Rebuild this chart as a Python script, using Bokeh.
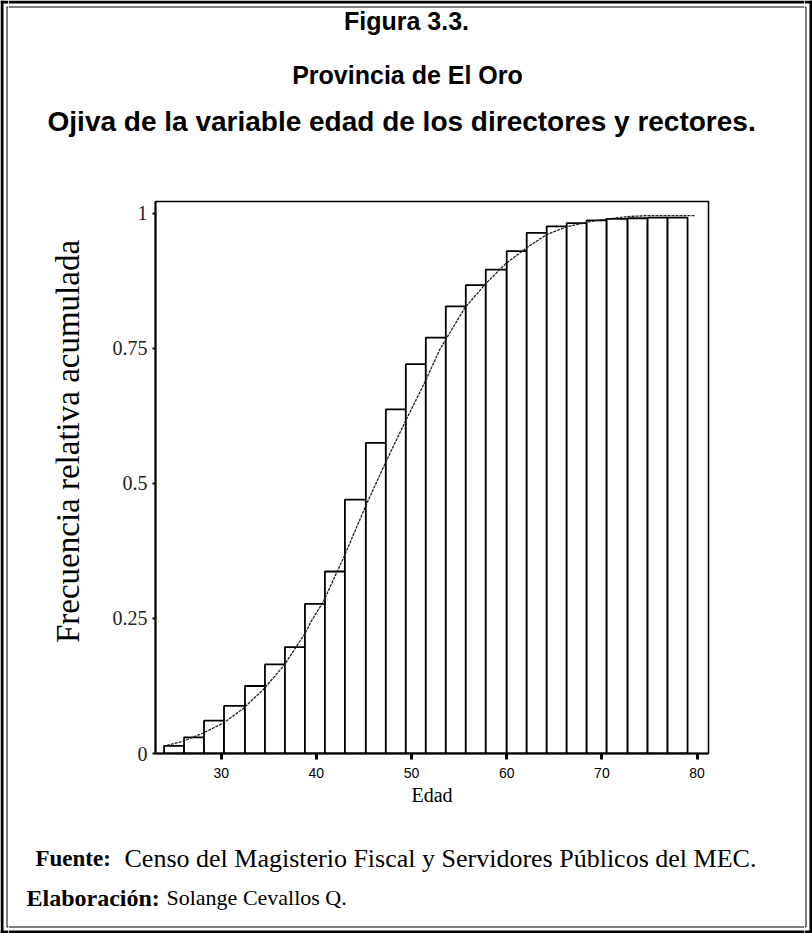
from math import pi
from bokeh.plotting import figure
from bokeh.models import Range1d, FixedTicker
from bokeh.layouts import column, row
from bokeh.core.properties import value
from bokeh.embed import file_html
from bokeh.resources import INLINE

# ---- data ----
bin_edges = [24.0, 26.1, 28.2, 30.3, 32.5, 34.6, 36.7, 38.8, 40.9, 43.0, 45.2, 47.3, 49.4,
             51.5, 53.6, 55.7, 57.8, 60.0, 62.1, 64.2, 66.3, 68.4, 70.5, 72.7, 74.8, 76.9, 79.0]
cum_freq = [0.014, 0.030, 0.061, 0.088, 0.125, 0.165, 0.197, 0.277, 0.337, 0.470, 0.575, 0.637,
            0.721, 0.770, 0.828, 0.867, 0.896, 0.930, 0.964, 0.976, 0.982, 0.987, 0.990, 0.991,
            0.992, 0.992]
curve_age = [23.9, 26.0, 28.0, 30.2, 32.3, 34.4, 36.6, 38.8, 39.5, 40.7, 42.9, 45.2, 47.2,
             49.3, 51.5, 53.0, 55.6, 57.8, 59.9, 62.0, 64.2, 66.3, 68.5, 70.7, 72.7, 74.8, 79.8]
curve_freq = [0.013, 0.023, 0.037, 0.056, 0.083, 0.118, 0.163, 0.222, 0.246, 0.280, 0.364, 0.459,
              0.536, 0.613, 0.691, 0.749, 0.825, 0.870, 0.907, 0.935, 0.961, 0.975, 0.984, 0.990,
              0.994, 0.996, 0.996]
x_ticks = [30, 40, 50, 60, 70, 80]
y_ticks = [0, 0.25, 0.5, 0.75, 1]
y_tick_labels = ["0", "0.25", "0.5", "0.75", "1"]

title_lines = ["Figura 3.3.", "Provincia de El Oro",
               "Ojiva  de la variable edad de los directores y rectores."]
x_label = "Edad"
y_label = "Frecuencia relativa acumulada"
source_head, source_text = "Fuente:", "Censo del Magisterio Fiscal y Servidores Públicos del MEC."
author_head, author_text = "Elaboración:", "Solange Cevallos Q."

# ---- page geometry (page pixels) ----
W, H = 812, 933
EDGE = 8                 # width of the left / right border strips
TOP_H = 185              # header height
MID_Y0, MID_Y1 = 185, 825  # middle band
YLAB_W = 90              # y-label strip width
FR_L, FR_R, FR_T, FR_B = 155, 708, 201, 753  # plot frame


def blank(w, h, xr, yr):
    f = figure(width=w, height=h, output_backend="svg", toolbar_location=None,
               x_range=Range1d(*xr), y_range=Range1d(*yr),
               x_axis_location=None, y_axis_location=None,
               min_border=0, min_border_left=0, min_border_right=0,
               min_border_top=0, min_border_bottom=0)
    f.grid.grid_line_color = None
    f.outline_line_color = None
    f.background_fill_color = "white"
    f.border_fill_color = "white"
    return f


def txt(f, x, y, s, font, size, bold=False, align="left", angle=0.0):
    f.text(x=[x], y=[y], text=[s], text_font=value(font), text_font_size=value(size),
           text_font_style="bold" if bold else "normal", text_align=align,
           text_baseline="middle", angle=angle, text_color="black")


def hline(f, y, x0, x1, w):
    f.segment(x0=[x0], y0=[y], x1=[x1], y1=[y], line_color="black", line_width=w)


def vline(f, x, y0, y1, w):
    f.segment(x0=[x], y0=[y0], x1=[x], y1=[y1], line_color="black", line_width=w)


# ---------- left / right border strips (full height) ----------
lstrip = blank(EDGE, H, (0, EDGE), (H, 0))
vline(lstrip, 1.5, 0, H, 3)
vline(lstrip, 6.5, 6.5, H - 6.5, 1)
hline(lstrip, 1.5, 0, EDGE, 3)
hline(lstrip, 6.5, 6.5, EDGE, 1)
hline(lstrip, H - 1.5, 0, EDGE, 3)
hline(lstrip, H - 6.5, 6.5, EDGE, 1)

rstrip = blank(EDGE, H, (W - EDGE, W), (H, 0))
vline(rstrip, W - 1.5, 0, H, 3)
vline(rstrip, W - 6.5, 6.5, H - 6.5, 1)
hline(rstrip, 1.5, W - EDGE, W, 3)
hline(rstrip, 6.5, W - EDGE, W - 6.5, 1)
hline(rstrip, H - 1.5, W - EDGE, W, 3)
hline(rstrip, H - 6.5, W - EDGE, W - 6.5, 1)

INNER_W = W - 2 * EDGE

# ---------- header ----------
hdr = blank(INNER_W, TOP_H, (EDGE, W - EDGE), (TOP_H, 0))
hline(hdr, 1.5, EDGE, W - EDGE, 3)
hline(hdr, 6.5, EDGE, W - EDGE, 1)
txt(hdr, 406, 20, title_lines[0], "Liberation Sans", "25px", bold=True, align="center")
txt(hdr, 407, 74, title_lines[1], "Liberation Sans", "25px", bold=True, align="center")
txt(hdr, 405, 121, title_lines[2], "Liberation Sans", "28px", bold=True, align="center")

# ---------- y-label strip ----------
MID_H = MID_Y1 - MID_Y0
ystrip = blank(YLAB_W, MID_H, (EDGE, EDGE + YLAB_W), (H - MID_Y1, H - MID_Y0))
txt(ystrip, 67, H - 441, y_label, "Liberation Serif", "33px", align="center", angle=pi / 2)

# ---------- main chart ----------
MAIN_X0 = EDGE + YLAB_W
p = figure(width=W - EDGE - MAIN_X0, height=MID_H, output_backend="svg",
           toolbar_location=None,
           x_range=Range1d(23.1, 81.2), y_range=Range1d(0, 1.022),
           min_border_left=FR_L - MAIN_X0, min_border_right=(W - EDGE) - FR_R,
           min_border_top=FR_T - MID_Y0, min_border_bottom=MID_Y1 - FR_B)
p.xgrid.visible = False
p.ygrid.visible = False
p.outline_line_color = "black"
p.outline_line_width = 1.5
p.background_fill_color = "white"
p.border_fill_color = "white"

p.quad(left=bin_edges[:-1], right=bin_edges[1:], top=cum_freq, bottom=0,
       fill_color="white", line_color="black", line_width=1.8)
p.line(curve_age, curve_freq, line_color="#222222", line_width=1.3, line_dash="3 1")

p.xaxis.ticker = FixedTicker(ticks=x_ticks)
p.xaxis.axis_line_width = 2
p.xaxis.major_tick_in = 0
p.xaxis.major_tick_out = 6
p.xaxis.major_tick_line_width = 3
p.xaxis.minor_tick_line_color = None
p.xaxis.major_label_standoff = 8
p.xaxis.major_label_text_font = "Liberation Sans"
p.xaxis.major_label_text_font_size = "14px"
p.xaxis.major_label_text_color = "black"
p.xaxis.axis_label = x_label
p.xaxis.axis_label_text_font = "Liberation Serif"
p.xaxis.axis_label_text_font_style = "normal"
p.xaxis.axis_label_text_font_size = "20px"
p.xaxis.axis_label_text_color = "black"
p.xaxis.axis_label_standoff = 3

p.yaxis.ticker = FixedTicker(ticks=y_ticks)
p.yaxis.major_label_overrides = {t: s for t, s in zip(y_ticks, y_tick_labels)}
p.yaxis.axis_line_width = 2
p.yaxis.major_tick_in = 0
p.yaxis.major_tick_out = 3
p.yaxis.major_tick_line_width = 2
p.yaxis.minor_tick_line_color = None
p.yaxis.major_label_standoff = 5
p.yaxis.major_label_text_font = "Liberation Serif"
p.yaxis.major_label_text_font_size = "20px"
p.yaxis.major_label_text_color = "#222222"

# ---------- footer ----------
ftr = blank(INNER_W, H - MID_Y1, (EDGE, W - EDGE), (H, MID_Y1))
hline(ftr, H - 1.5, EDGE, W - EDGE, 3)
hline(ftr, H - 6.5, EDGE, W - EDGE, 1)
txt(ftr, 35, 858, source_head, "Liberation Serif", "23px", bold=True)
txt(ftr, 124, 858, source_text, "Liberation Serif", "26px")
txt(ftr, 26, 897, author_head, "Liberation Serif", "24px", bold=True)
txt(ftr, 166, 897, author_text, "Liberation Serif", "22px")

layout = row(lstrip,
             column(hdr, row(ystrip, column(p)), ftr),
             rstrip)
open("out.html", "w").write(file_html(layout, INLINE))
